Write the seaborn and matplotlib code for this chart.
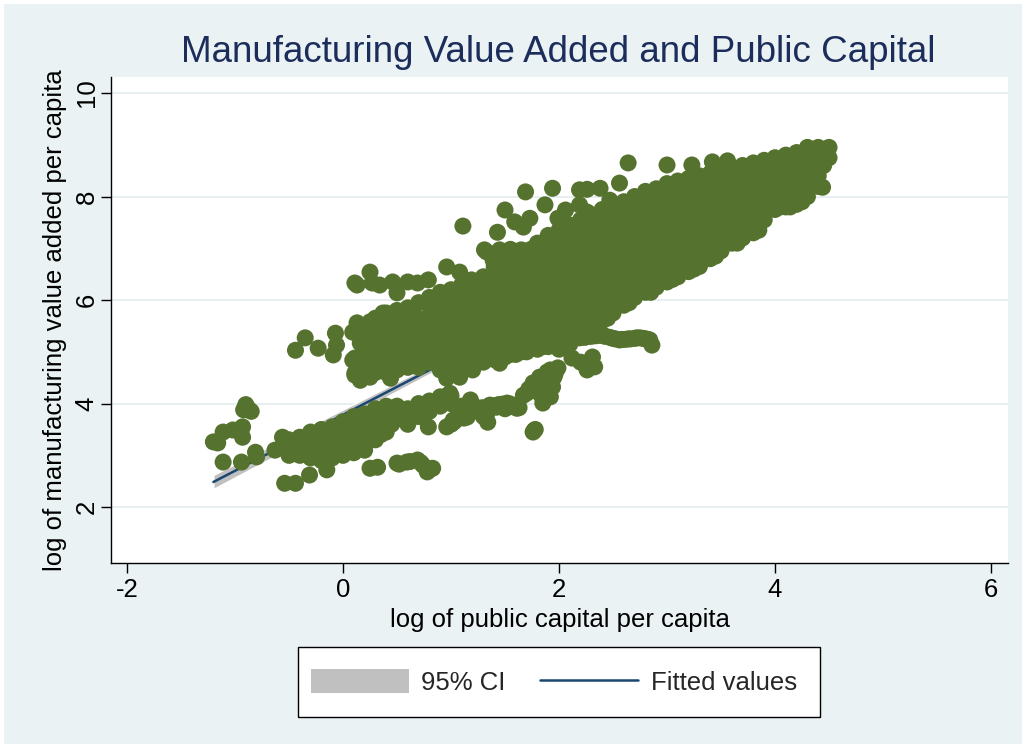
import numpy as np
import pandas as pd
import matplotlib
matplotlib.use("Agg")
import matplotlib.pyplot as plt
from matplotlib.patches import Rectangle, Patch
from matplotlib.lines import Line2D
import seaborn as sns

# ---------------- data ----------------
far_left_x = [-0.88, -0.90, -0.85, -0.92, -1.20, -1.16, -1.11, -1.02, -0.93, -0.93,
              -1.11, -0.94, -0.81, -0.80, -0.63, -0.56, -0.54, -0.44, -0.31]
far_left_y = [3.91, 3.98, 3.85, 3.88, 3.26, 3.24, 3.45, 3.49, 3.55, 3.35,
              2.87, 2.87, 3.06, 2.97, 3.10, 3.35, 2.46, 2.46, 2.62]

blob_cols_x = [-0.5, -0.4, -0.3, -0.2, -0.1, 0.0, 0.1, 0.2, 0.3, 0.4, 0.5, 0.6, 0.7, 0.8, 0.9, 1.0]
blob_cols_y = [[3.0, 3.15, 3.3], [3.0, 3.2, 3.35], [2.95, 3.15, 3.3, 3.45], [2.9, 3.1, 3.3, 3.5],
               [2.95, 3.15, 3.35, 3.55], [3.0, 3.2, 3.45, 3.65], [3.05, 3.25, 3.5, 3.75],
               [3.1, 3.35, 3.6, 3.8], [3.3, 3.5, 3.75, 3.9], [3.45, 3.7, 3.95], [3.7, 3.95],
               [3.6, 3.9], [3.75, 4.0], [3.85, 4.05], [3.95, 4.1], [4.0, 4.15]]

# overlapping observations inside the dense lower blob
blob2_x = [-0.45, -0.45, -0.35, -0.35, -0.25, -0.25, -0.15, -0.15, -0.15, -0.05, -0.05, -0.05,
           0.05, 0.05, 0.05, 0.15, 0.15, 0.15, 0.25, 0.25, 0.35, 0.35, -0.3, -0.2, -0.1, 0.0]
blob2_y = [3.10, 3.25, 3.05, 3.30, 3.00, 3.35, 3.00, 3.20, 3.45, 3.05, 3.30, 3.50,
           3.10, 3.35, 3.55, 3.20, 3.45, 3.65, 3.30, 3.60, 3.40, 3.70, 3.20, 3.20, 3.25, 3.30]
blob3_x = [-0.42, -0.38, -0.32, -0.28, -0.22, -0.18, -0.12, -0.08, -0.02, 0.02, 0.08, 0.12,
           0.18, 0.22, 0.28, 0.32, 0.38, -0.42, -0.32, -0.22, -0.12, -0.02, 0.08, 0.18,
           0.28, 0.38, 0.45, 0.55, 0.65, 0.75]
blob3_y = [3.05, 3.12, 3.02, 3.10, 2.98, 3.08, 3.02, 3.12, 3.05, 3.15, 3.10, 3.22,
           3.18, 3.28, 3.35, 3.42, 3.50, 3.22, 3.25, 3.28, 3.30, 3.35, 3.40, 3.45,
           3.55, 3.62, 3.60, 3.70, 3.80, 3.90]
blob4_x = [-0.30, -0.26, -0.21, -0.17, -0.13, -0.09, -0.04, 0.01, 0.04, 0.09, 0.13, 0.17,
           0.21, 0.26, 0.30]
blob4_y = [3.18, 3.32, 3.15, 3.40, 3.22, 3.45, 3.18, 3.40, 3.28, 3.48, 3.30, 3.52,
           3.38, 3.50, 3.45]

band_cols_x = [0.2, 0.3, 0.4, 0.5, 0.6, 0.7, 0.8, 0.9, 1.0, 1.1, 1.2, 1.3, 1.4, 1.5, 1.6, 1.7,
               1.8, 1.9, 2.0, 2.1, 2.2, 2.3, 2.4, 2.5, 2.6, 2.7, 2.8, 2.9, 3.0, 3.1, 3.2, 3.3,
               3.4, 3.5, 3.6, 3.7, 3.8, 3.9, 4.0, 4.1, 4.2, 4.3, 4.4, 4.5]
band_cols_y = [
    [4.55, 4.8, 5.0, 5.2, 5.4],
    [4.6, 4.8, 5.05, 5.25, 5.45, 5.65],
    [4.6, 4.85, 5.05, 5.3, 5.5, 5.75],
    [4.65, 4.9, 5.1, 5.3, 5.55, 5.8],
    [4.7, 4.9, 5.15, 5.35, 5.6, 5.85],
    [4.7, 4.95, 5.2, 5.4, 5.65, 5.95],
    [4.8, 5.0, 5.25, 5.45, 5.7, 5.9, 6.05],
    [4.65, 4.9, 5.1, 5.35, 5.55, 5.8, 6.0, 6.15],
    [4.6, 4.85, 5.05, 5.3, 5.5, 5.75, 5.95, 6.2],
    [4.65, 4.9, 5.15, 5.35, 5.6, 5.8, 6.05, 6.3],
    [4.75, 5.0, 5.2, 5.45, 5.65, 5.9, 6.1, 6.35],
    [4.8, 5.05, 5.25, 5.5, 5.7, 5.95, 6.2, 6.45],
    [4.85, 5.1, 5.3, 5.55, 5.8, 6.0, 6.25, 6.45, 6.65],
    [4.9, 5.15, 5.4, 5.6, 5.85, 6.05, 6.3, 6.55, 6.75],
    [4.95, 5.2, 5.45, 5.65, 5.9, 6.1, 6.35, 6.6, 6.85],
    [5.0, 5.25, 5.5, 5.7, 5.95, 6.2, 6.45, 6.7, 6.95],
    [5.05, 5.3, 5.55, 5.8, 6.0, 6.25, 6.5, 6.75, 6.95, 7.1],
    [5.1, 5.35, 5.6, 5.85, 6.05, 6.3, 6.55, 6.8, 7.05, 7.25],
    [5.15, 5.4, 5.65, 5.9, 6.15, 6.4, 6.6, 6.85, 7.1, 7.35],
    [5.3, 5.5, 5.75, 5.95, 6.2, 6.45, 6.7, 6.95, 7.2, 7.45],
    [5.4, 5.6, 5.85, 6.05, 6.3, 6.55, 6.8, 7.05, 7.3, 7.55],
    [5.5, 5.7, 5.95, 6.15, 6.4, 6.65, 6.9, 7.15, 7.4, 7.65],
    [5.6, 5.85, 6.05, 6.3, 6.55, 6.8, 7.05, 7.3, 7.5, 7.75],
    [5.75, 6.0, 6.2, 6.45, 6.7, 6.95, 7.15, 7.4, 7.6, 7.85],
    [5.9, 6.15, 6.35, 6.6, 6.85, 7.1, 7.3, 7.55, 7.75, 7.9],
    [6.05, 6.3, 6.5, 6.75, 7.0, 7.2, 7.45, 7.65, 7.85, 8.0],
    [6.15, 6.4, 6.6, 6.85, 7.1, 7.3, 7.55, 7.75, 7.95, 8.1],
    [6.25, 6.5, 6.7, 6.95, 7.2, 7.4, 7.6, 7.85, 8.05, 8.15],
    [6.35, 6.6, 6.8, 7.05, 7.25, 7.5, 7.7, 7.9, 8.1, 8.25],
    [6.45, 6.7, 6.9, 7.15, 7.35, 7.55, 7.8, 8.0, 8.2, 8.3],
    [6.55, 6.8, 7.0, 7.25, 7.45, 7.65, 7.9, 8.1, 8.35],
    [6.65, 6.9, 7.1, 7.35, 7.55, 7.75, 7.95, 8.2, 8.4],
    [6.8, 7.05, 7.25, 7.45, 7.65, 7.85, 8.05, 8.25, 8.45],
    [6.95, 7.2, 7.4, 7.6, 7.8, 8.0, 8.2, 8.35, 8.5],
    [7.1, 7.3, 7.5, 7.7, 7.9, 8.1, 8.3, 8.55],
    [7.2, 7.4, 7.6, 7.8, 8.0, 8.2, 8.4, 8.6],
    [7.3, 7.5, 7.7, 7.9, 8.1, 8.3, 8.5, 8.65],
    [7.55, 7.75, 7.95, 8.15, 8.35, 8.55, 8.7],
    [7.75, 7.95, 8.15, 8.35, 8.55, 8.75],
    [7.8, 8.0, 8.2, 8.4, 8.6, 8.8],
    [7.85, 8.05, 8.25, 8.45, 8.65, 8.85],
    [8.0, 8.2, 8.4, 8.6, 8.8, 8.95],
    [8.2, 8.4, 8.6, 8.8, 8.95],
    [8.75, 8.95],
]

# overlapping observations in the dense upper-right part of the band
band2_x = [3.05, 3.15, 3.25, 3.35, 3.45, 3.55, 3.65, 3.75, 3.85, 3.95, 4.05, 4.15, 4.25, 4.35,
           4.45, 3.05, 3.25, 3.45, 3.65, 3.85, 4.05, 4.25]
band2_y = [7.10, 7.20, 7.30, 7.45, 7.55, 7.70, 7.80, 7.90, 8.00, 8.10, 8.20, 8.30, 8.40, 8.50,
           8.60, 6.80, 7.00, 7.20, 7.40, 7.60, 7.85, 8.05]
# overlapping observations along the lower edge of the band
edge2_x = [1.05, 1.25, 1.45, 1.65, 1.85, 2.05, 2.25, 2.45, 2.65, 2.85, 3.05, 3.25, 3.45, 3.65,
           3.85, 4.05, 4.25, 4.40, 1.15, 1.55, 1.95, 2.35]
edge2_y = [4.65, 4.80, 4.90, 5.00, 5.10, 5.25, 5.40, 5.65, 5.95, 6.15, 6.40, 6.60, 6.85, 7.10,
           7.35, 7.80, 7.90, 8.20, 4.70, 4.95, 5.15, 5.55]

upper_x = [1.11, 1.69, 1.94, 2.19, 2.26, 2.38, 2.56, 1.50, 1.59, 1.73, 1.67, 1.43, 1.87, 1.31,
           1.41, 2.06, 2.19, 1.99, 2.26, 2.47, 2.64, 3.00, 3.23, 3.42, 3.56, 1.45, 1.55, 1.65,
           1.75, 1.85, 4.44, 4.14]
upper_y = [7.43, 8.09, 8.16, 8.13, 8.14, 8.16, 8.26, 7.74, 7.51, 7.58, 7.41, 7.31, 7.84, 6.97,
           6.77, 7.74, 7.84, 7.58, 7.70, 7.93, 8.65, 8.61, 8.61, 8.67, 8.69, 6.97, 6.98, 6.97,
           6.99, 7.00, 8.18, 7.80]

row_x = [0.11, 0.13, 0.25, 0.34, 0.46, 0.60, 0.69, 0.79, 0.96, 1.08, 1.19, 1.33, 1.39, 0.27]
row_y = [6.33, 6.29, 6.54, 6.29, 6.35, 6.35, 6.33, 6.39, 6.64, 6.54, 6.39, 6.93, 6.77, 6.33]

left_x = [-0.44, -0.35, -0.23, -0.07, -0.06, -0.09, 0.09, 0.11, 0.13, 0.16, 0.25, 0.11, 0.16,
          0.25, 0.44, 0.11, 0.09, 0.37, 0.50]
left_y = [5.03, 5.27, 5.07, 5.36, 5.13, 4.94, 5.38, 4.88, 5.56, 5.17, 5.58, 4.55, 4.45,
          4.51, 4.49, 4.59, 4.84, 5.75, 6.14]

low_x = [0.25, 0.32, 0.50, 0.59, 0.69, 0.74, 0.83, 0.78, -0.15, 0.52, 0.62, 0.72, 0.80]
low_y = [2.75, 2.77, 2.85, 2.87, 2.91, 2.81, 2.75, 2.68, 2.72, 2.83, 2.88, 2.86, 2.72]

mid_x = [0.79, 0.96, 1.02, 1.11, 0.90, 0.97, 1.01, 1.15, 1.08, 1.19, 1.34, 1.36, 1.52, 1.61,
         1.27, 1.44, 1.20, 1.08, 0.96, 1.45, 1.82, 1.70, 0.99, 1.18, 1.92,
         1.05, 1.13, 1.23, 1.31, 1.40, 1.48, 1.57, 1.10, 1.30, 1.50, 1.00, 1.62]
mid_y = [3.55, 3.55, 3.68, 3.82, 4.13, 4.16, 3.62, 3.74, 3.91, 3.97, 3.64, 3.97, 4.01, 3.91,
         3.90, 3.98, 4.65, 4.51, 4.49, 4.78, 4.45, 4.20, 4.20, 4.07, 4.65,
         3.70, 3.85, 3.92, 3.88, 3.95, 3.99, 3.95, 3.95, 3.75, 3.90, 3.60, 3.96]
mid2_x = [1.03, 1.07, 1.12, 1.16, 1.22, 1.25, 1.29, 1.33, 1.38, 1.42, 1.46, 1.50, 1.55, 1.59,
          1.63]
mid2_y = [3.65, 3.80, 3.72, 3.88, 3.94, 3.85, 3.92, 3.80, 3.96, 3.93, 3.97, 3.98, 3.99, 3.94,
          3.92]

rise_x = [1.67, 1.76, 1.82, 1.89, 1.99, 1.85, 1.92, 1.94, 1.82, 1.76, 1.78, 2.12, 2.26, 2.29,
          2.33, 2.31, 2.20, 1.72, 1.79, 1.86, 1.90, 1.96, 2.25, 2.30, 1.77,
          1.74, 1.80, 1.84, 1.87, 1.91, 1.93, 1.97, 1.88, 1.83, 1.95]
rise_y = [4.16, 4.40, 4.51, 4.61, 4.69, 4.01, 4.13, 4.32, 4.20, 3.45, 3.50, 4.88, 4.65, 4.78,
          4.71, 4.90, 4.80, 4.28, 4.35, 4.25, 4.45, 4.55, 4.75, 4.85, 3.48,
          4.30, 4.42, 4.15, 4.48, 4.22, 4.58, 4.62, 4.38, 4.30, 4.50]

chain_x = [2.19, 2.30, 2.38, 2.47, 2.56, 2.66, 2.75, 2.84, 2.86, 2.00, 2.10,
           2.24, 2.34, 2.43, 2.52, 2.61, 2.70, 2.80,
           2.21, 2.27, 2.36, 2.41, 2.50, 2.58, 2.64, 2.72, 2.78, 2.82]
chain_y = [5.27, 5.30, 5.33, 5.28, 5.23, 5.25, 5.27, 5.23, 5.13, 5.05, 5.15,
           5.28, 5.31, 5.30, 5.25, 5.24, 5.26, 5.25,
           5.29, 5.30, 5.32, 5.31, 5.26, 5.24, 5.25, 5.27, 5.26, 5.24]

x_ticks = [-2, 0, 2, 4, 6]
y_ticks = [2, 4, 6, 8, 10]

# ---------------- assemble ----------------
xs, ys = [], []
for cx, col in zip(blob_cols_x, blob_cols_y):
    xs += [cx] * len(col); ys += col
for cx, col in zip(band_cols_x, band_cols_y):
    xs += [cx] * len(col); ys += col
for gx, gy in [(far_left_x, far_left_y), (blob2_x, blob2_y), (blob3_x, blob3_y),
               (blob4_x, blob4_y), (band2_x, band2_y), (edge2_x, edge2_y),
               (upper_x, upper_y), (row_x, row_y), (left_x, left_y),
               (low_x, low_y), (mid_x, mid_y), (mid2_x, mid2_y), (rise_x, rise_y),
               (chain_x, chain_y)]:
    xs += gx; ys += gy
df = pd.DataFrame({"pubcap": xs, "mva": ys})

# ---------------- style ----------------
BG = "#EAF2F3"
GREEN = "#55732F"
NAVY = "#1A476F"
CI_GRAY = "#C0C0C0"
TITLE_C = "#1C2D5C"
FS = 18.5

sns.set_theme(style="white")
plt.rcParams["font.family"] = ["Liberation Sans", "DejaVu Sans"]

fig = plt.figure(figsize=(10.26, 7.48), dpi=100)
fig.patch.set_facecolor("white")
fig.add_artist(Rectangle((4 / 1026, 4 / 748), 1018 / 1026, 740 / 748,
                         transform=fig.transFigure, facecolor=BG, edgecolor="none", zorder=-10))

ax = fig.add_axes([111 / 1026, 1 - 563 / 748, 897 / 1026, 486 / 748])
ax.set_facecolor("white")

sns.regplot(data=df, x="pubcap", y="mva", ax=ax, scatter=False, ci=95, seed=0,
            color=NAVY, line_kws=dict(lw=1.8, zorder=2))
for coll in ax.collections:
    coll.set_facecolor(CI_GRAY)
    coll.set_alpha(1)
    coll.set_zorder(1.5)

sns.scatterplot(data=df, x="pubcap", y="mva", ax=ax, color=GREEN, s=150,
                linewidth=0, edgecolor="none", zorder=3, legend=False)

ax.set_xlim(-2.148, 6.157)
ax.set_ylim(0.92, 10.31)
ax.set_xticks(x_ticks)
ax.set_yticks(y_ticks)
ax.set_xticklabels([str(t) for t in x_ticks])
ax.set_yticklabels([str(t) for t in y_ticks], rotation=90, va="center")
ax.yaxis.grid(True, color="#E6EEF0", lw=1.3, zorder=0)
ax.xaxis.grid(False)
ax.set_axisbelow(True)
for s in ["top", "right"]:
    ax.spines[s].set_visible(False)
for s in ["left", "bottom"]:
    ax.spines[s].set_color("black")
    ax.spines[s].set_linewidth(1.0)
ax.tick_params(axis="both", direction="out", length=7, width=1, color="black",
               labelsize=FS, labelcolor="black", left=True, bottom=True)
ax.tick_params(axis="y", pad=2)
ax.tick_params(axis="x", pad=4)
ax.set_xlabel("")
ax.set_ylabel("")

fig.text(558 / 1026, 1 - 52 / 748, "Manufacturing Value Added and Public Capital",
         ha="center", va="center", fontsize=26.5, color=TITLE_C)
fig.text(560 / 1026, 1 - 620 / 748, "log of public capital per capita",
         ha="center", va="center", fontsize=FS, color="black")
fig.text(55 / 1026, 1 - 320 / 748, "log of manufacturing value added per capita",
         ha="center", va="center", fontsize=FS, color="black", rotation=90)

fig.add_artist(Rectangle((298 / 1026, 1 - 717 / 748), 522 / 1026, 70 / 748,
                         transform=fig.transFigure, facecolor="white", edgecolor="black",
                         lw=1.0, zorder=5))
handles = [Patch(facecolor=CI_GRAY, edgecolor="none"), Line2D([], [], color=NAVY, lw=1.8)]
leg = fig.legend(handles, ["95% CI", "Fitted values"], loc="center",
                 bbox_to_anchor=(554 / 1026, 1 - 682 / 748), ncol=2, frameon=False,
                 fontsize=FS, handlelength=3.8, handleheight=1.05, columnspacing=1.35,
                 handletextpad=0.5, borderpad=0.3)
leg.set_zorder(6)

fig.savefig("out.png", dpi=100, facecolor=fig.get_facecolor())
